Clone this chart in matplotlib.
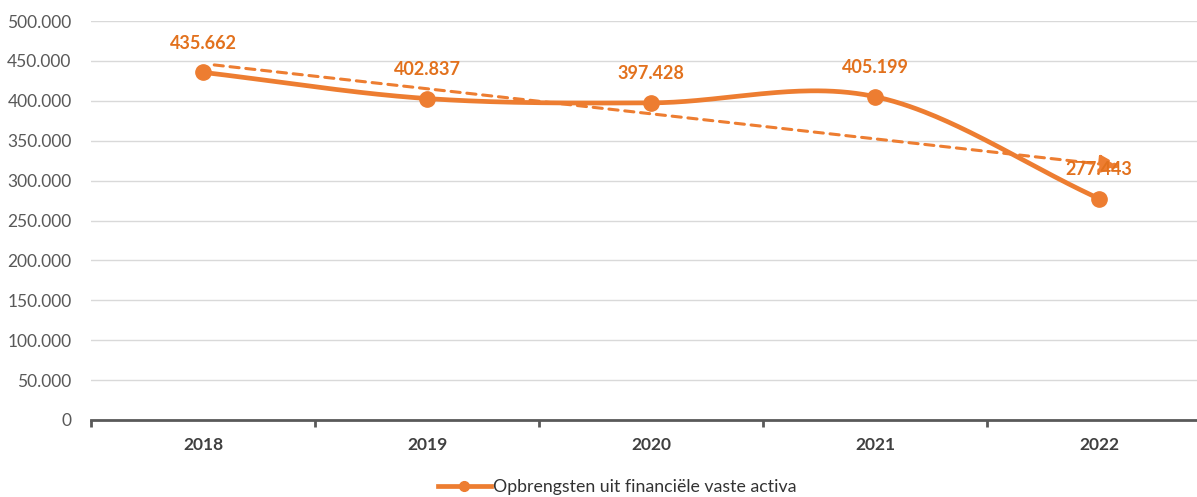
import numpy as np
import matplotlib
matplotlib.use("Agg")
import matplotlib.pyplot as plt
from matplotlib.ticker import FuncFormatter, FixedLocator
from matplotlib.lines import Line2D

years = ["2018", "2019", "2020", "2021", "2022"]
values = [435662, 402837, 397428, 405199, 277443]
series_name = "Opbrengsten uit financiële vaste activa"

ORANGE = "#ED7D31"
LABEL_ORANGE = "#E2711D"

plt.rcParams['font.family'] = ['Lato', 'DejaVu Sans']

fig = plt.figure(figsize=(11.97, 4.97), dpi=100)
W, H = 1197, 497
x_left, x_right = 91, 1211
y_bot, y_top = 420, 21
ax = fig.add_axes([x_left / W, (H - y_bot) / H, (x_right - x_left) / W, (y_bot - y_top) / H])

x = np.arange(len(values), dtype=float)
y = np.array(values, dtype=float)

# Catmull-Rom smoothing (Excel-like smoothed line)
def catmull_rom(xs, ys, n=60):
    px, py = [], []
    N = len(xs)
    for i in range(N - 1):
        x0, x1 = xs[i], xs[i + 1]
        y0, y1 = ys[i], ys[i + 1]
        yp = ys[i - 1] if i > 0 else ys[i]
        yn = ys[i + 2] if i + 2 < N else ys[i + 1]
        xp = xs[i - 1] if i > 0 else xs[i]
        xn = xs[i + 2] if i + 2 < N else xs[i + 1]
        m0 = (y1 - yp) / (x1 - xp)
        m1 = (yn - y0) / (xn - x0)
        t = np.linspace(0, 1, n)
        h = x1 - x0
        h00 = 2 * t**3 - 3 * t**2 + 1
        h10 = t**3 - 2 * t**2 + t
        h01 = -2 * t**3 + 3 * t**2
        h11 = t**3 - t**2
        px.extend(x0 + t * h)
        py.extend(h00 * y0 + h10 * h * m0 + h01 * y1 + h11 * h * m1)
    return np.array(px), np.array(py)

sx, sy = catmull_rom(x, y)
ax.plot(sx, sy, color=ORANGE, lw=3.4, solid_capstyle='round', zorder=3)
ax.plot(x, y, 'o', color=ORANGE, ms=11, zorder=4)

# trend arrow (linear fit)
coef = np.polyfit(x, y, 1)
tx0, tx1 = 0.05, 4.1
ax.annotate("", xy=(tx1, np.polyval(coef, tx1)), xytext=(tx0, np.polyval(coef, tx0)),
            arrowprops=dict(arrowstyle="-|>,head_length=1.3,head_width=0.55", color=ORANGE,
                            lw=2.2, linestyle=(0, (3, 2.2)), shrinkA=0, shrinkB=0), zorder=5)

for xi, yi in zip(x, y):
    ax.annotate(f"{int(yi):,}".replace(",", "."), (xi, yi), xytext=(0, 15), textcoords="offset points",
                ha="center", va="bottom", color=LABEL_ORANGE, fontsize=13, fontweight="bold", zorder=6)

ax.set_xlim(-0.5, 4.5)
ax.set_ylim(0, 500000)
ax.set_yticks(np.arange(0, 500001, 50000))
ax.yaxis.set_major_formatter(FuncFormatter(lambda v, p: f"{int(v):,}".replace(",", ".")))
ax.set_xticks(x)
ax.set_xticklabels(years, fontweight="bold", fontsize=12.5, color="#404040")
ax.xaxis.set_minor_locator(FixedLocator(np.arange(-0.5, 4.6, 1.0)))
ax.tick_params(axis="x", which="major", length=0, pad=12)
ax.tick_params(axis="x", which="minor", length=5, width=2, color="#595959", direction="out")
ax.tick_params(axis="y", length=0, labelsize=12.5, labelcolor="#595959", pad=14)

ax.grid(axis="y", color="#D9D9D9", lw=1)
ax.set_axisbelow(True)
for s in ["top", "right", "left"]:
    ax.spines[s].set_visible(False)
ax.spines["bottom"].set_color("#595959")
ax.spines["bottom"].set_linewidth(2)

h = Line2D([0], [0], color=ORANGE, lw=3.4, marker='o', ms=7)
fig.legend([h], [series_name], loc="center", bbox_to_anchor=(617 / W, 1 - 487 / H), frameon=False,
           fontsize=12.8, handlelength=3.0, handletextpad=0.1, labelcolor="#333333")

fig.savefig("out.png", dpi=100)
